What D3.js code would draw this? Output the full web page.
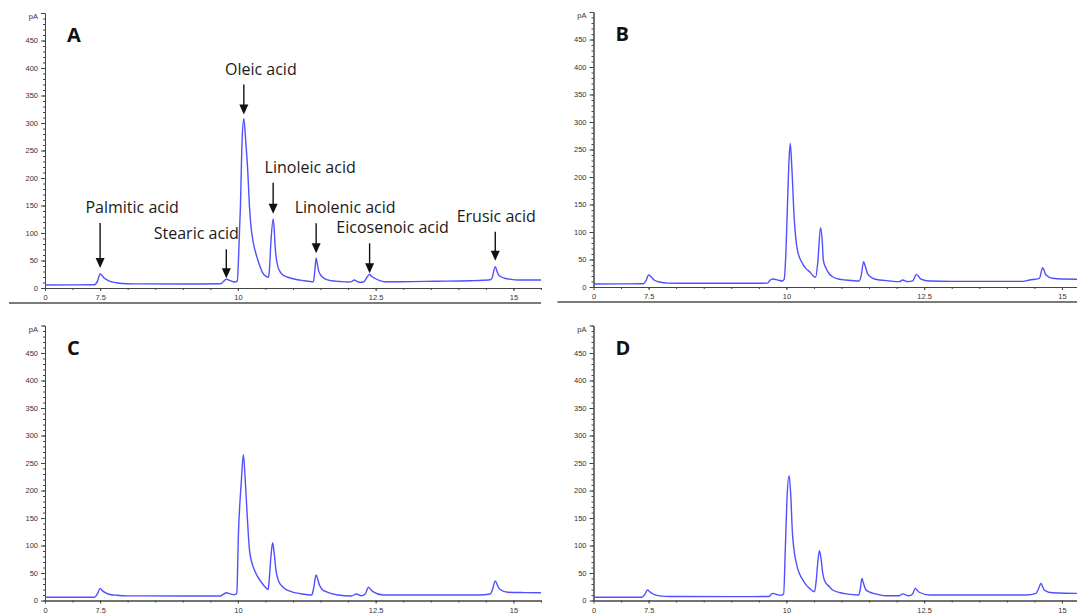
<!DOCTYPE html>
<html>
<head>
<meta charset="utf-8">
<script src="https://cdn.jsdelivr.net/npm/d3@7"></script>
<style>
  body { margin: 0; background: #fff; }
  .tick text { font-family: "Liberation Sans", Arial, sans-serif; font-size: 7.5px; fill: #333; }
  .ann { font-family: "Open Sans", sans-serif; font-size: 16px; fill: #1a1a1a; }
  .letter { font-family: "Open Sans", sans-serif; font-size: 20px; font-weight: bold; fill: #111; }
</style>
</head>
<body>
<div id="chart"></div>
<script>
// retention time (min) vs signal (pA)
var traceA = [
  [6.5, 5.5], [7.40, 5.8], [7.45, 12], [7.50, 25.5], [7.53, 23], [7.58, 17.7], [7.64, 14], [7.70, 11.5],
  [7.80, 9.5], [7.90, 8.3], [8.10, 7.5], [9.00, 7.3], [9.68, 7.6], [9.73, 11], [9.79, 15.8], [9.86, 13.5],
  [9.94, 11], [9.99, 13], [10.01, 50], [10.046, 148], [10.077, 270], [10.108, 308], [10.14, 270],
  [10.181, 209], [10.21, 148], [10.24, 110], [10.271, 87], [10.32, 65], [10.362, 51], [10.41, 37],
  [10.453, 27], [10.50, 22], [10.554, 19.5], [10.57, 30], [10.60, 85], [10.64, 125.7], [10.66, 105],
  [10.676, 75], [10.70, 52], [10.725, 39], [10.77, 29], [10.816, 23.7], [10.90, 20], [10.966, 17.7],
  [11.08, 15], [11.208, 13.3], [11.30, 12], [11.37, 11.5], [11.39, 25], [11.42, 54], [11.44, 45],
  [11.46, 33], [11.50, 24], [11.54, 19.5], [11.60, 15.5], [11.69, 13.3], [11.85, 11.8], [11.995, 11],
  [12.06, 11.5], [12.115, 14.6], [12.16, 12], [12.20, 10.4], [12.28, 11], [12.33, 17.7], [12.39, 25],
  [12.43, 21], [12.48, 17.7], [12.56, 14], [12.66, 11.5], [12.98, 11.5], [13.6, 12.3], [14.23, 13.3],
  [14.45, 14], [14.58, 15], [14.61, 17.7], [14.67, 38.8], [14.70, 31], [14.73, 23.7], [14.78, 20],
  [14.84, 17.7], [14.95, 15.8], [15.08, 14.6], [15.5, 14.6]
];
var traceB = [
  [6.5, 5.5], [7.40, 5.8], [7.45, 11], [7.50, 21.8], [7.54, 19], [7.60, 12.7], [7.70, 9], [7.85, 7],
  [8.2, 6.7], [9.0, 6.7], [9.66, 7], [9.70, 12], [9.75, 14.5], [9.85, 12.5], [9.93, 11], [9.96, 14],
  [9.99, 60], [10.02, 150], [10.05, 235], [10.07, 261], [10.10, 215], [10.14, 128], [10.20, 67],
  [10.29, 43], [10.36, 33], [10.42, 28], [10.48, 21], [10.53, 17.6], [10.57, 45], [10.62, 108],
  [10.65, 85], [10.67, 49], [10.72, 34], [10.78, 23.6], [10.84, 18.7], [10.96, 14], [11.08, 12.7],
  [11.32, 11], [11.36, 22], [11.40, 46], [11.43, 38], [11.47, 25], [11.52, 19], [11.60, 14.5],
  [11.87, 11], [12.05, 9.7], [12.11, 12.7], [12.20, 9.7], [12.29, 11], [12.36, 23], [12.40, 19],
  [12.44, 14.5], [12.60, 11], [13.0, 10.3], [14.29, 10.3], [14.41, 12.7], [14.59, 15.8], [14.65, 35],
  [14.68, 29], [14.71, 21.8], [14.83, 15.8], [15.0, 14.5], [15.5, 14]
];
var traceC = [
  [6.5, 5.8], [7.40, 6], [7.45, 12], [7.50, 22], [7.54, 18], [7.60, 14], [7.70, 10.5], [7.80, 9.5],
  [8.0, 8.5], [9.0, 8.2], [9.68, 8.3], [9.73, 11], [9.79, 14], [9.86, 12], [9.94, 10.6], [9.98, 14],
  [10.01, 122], [10.06, 213], [10.10, 265], [10.13, 225], [10.17, 153], [10.21, 92], [10.25, 70],
  [10.30, 55.6], [10.36, 43], [10.42, 34], [10.49, 25], [10.55, 20], [10.57, 40], [10.60, 80],
  [10.63, 105], [10.66, 85], [10.69, 55.6], [10.74, 35], [10.81, 25], [10.97, 16], [11.21, 11.3],
  [11.34, 10], [11.37, 20], [11.42, 46.4], [11.45, 38], [11.48, 28], [11.53, 20], [11.60, 16],
  [11.81, 10], [12.06, 8.2], [12.15, 11.8], [12.24, 8.7], [12.31, 12], [12.37, 24], [12.41, 20],
  [12.45, 16], [12.63, 10], [13.5, 10], [14.38, 10], [14.58, 11.8], [14.62, 20], [14.67, 35.5],
  [14.71, 28], [14.75, 20.4], [14.90, 15], [15.2, 14.4], [15.5, 14.2]
];
var traceD = [
  [6.5, 5.8], [7.38, 6], [7.43, 11], [7.48, 19], [7.52, 16], [7.58, 11.8], [7.70, 8.5], [7.90, 7.2],
  [9.0, 7], [9.69, 7.2], [9.72, 11], [9.75, 13], [9.82, 11], [9.90, 9.5], [9.95, 12], [9.98, 92],
  [10.01, 183], [10.05, 227], [10.08, 190], [10.11, 122], [10.18, 68], [10.24, 48], [10.30, 37],
  [10.36, 28], [10.42, 22], [10.51, 16], [10.54, 35], [10.57, 70], [10.60, 90.7], [10.63, 75],
  [10.66, 49.5], [10.69, 37], [10.79, 24], [10.84, 19], [10.98, 14], [11.08, 12], [11.31, 10],
  [11.34, 20], [11.37, 40], [11.40, 31], [11.44, 20], [11.52, 15], [11.62, 12], [11.80, 8.7],
  [12.05, 8.7], [12.11, 12], [12.22, 8.7], [12.29, 12], [12.34, 22], [12.37, 19], [12.41, 15],
  [12.60, 10], [13.5, 10], [14.35, 10], [14.53, 13], [14.57, 20], [14.62, 31], [14.65, 25],
  [14.68, 19], [14.83, 14], [15.26, 13], [15.5, 13]
];

var panelNames = ["A", "B", "C", "D"];
var traces = [traceA, traceB, traceC, traceD];

// x axis: the plotted window starts at 6.5 min but the software labels it "0"
var xTickValues = [6.5, 7.5, 10, 12.5, 15];
var xTickLabels = ["0", "7.5", "10", "12.5", "15"];
var yTickValues = [0, 50, 100, 150, 200, 250, 300, 350, 400, 450];

// peaks labelled in panel A
var peakNames = ["Palmitic acid", "Stearic acid", "Oleic acid", "Linoleic acid", "Linolenic acid", "Eicosenoic acid", "Erusic acid"];
var peakTimes = [7.50, 9.79, 10.108, 10.64, 11.42, 12.39, 14.67];
var peakHeights = [25.5, 15.8, 308, 125.7, 54, 25, 38.8];

// label layout: [text dx from arrow, gap peak->tip, arrow length]
var labelLayout = [[32, 6, 45], [-30, 1, 29], [17, 4, 30], [37, 5, 31], [29, 5, 30], [23, 1, 30], [1, 6, 29]];

var W = 1077, H = 613;
var plotW = 496, plotH = 275;
var origins = [[45, 288], [593.5, 287], [45, 600.5], [593.5, 600.5]];

var svg = d3.select("#chart").append("svg").attr("width", W).attr("height", H)
  .style("display", "block");
svg.append("rect").attr("width", W).attr("height", H).attr("fill", "#fff");

var line;
traces.forEach(function(tr, i) {
  var ox = origins[i][0], oy = origins[i][1];
  var g = svg.append("g").attr("transform", "translate(" + ox + "," + oy + ")");

  var x = d3.scaleLinear().domain([6.5, 15.5]).range([0, plotW]);
  var y = d3.scaleLinear().domain([0, 500]).range([0, -plotH]);

  // separator under each panel
  g.append("line").attr("x1", -36).attr("x2", plotW).attr("y1", 15).attr("y2", 15)
    .attr("stroke", "#7a7a7a").attr("stroke-width", 2);

  // y axis minor + major
  g.append("g").call(d3.axisLeft(y).tickValues(d3.range(0, 501, 10)).tickSize(2).tickSizeOuter(0).tickFormat(""))
    .call(function(a) { a.selectAll("line,path").attr("stroke", "#444"); });
  var ya = g.append("g").call(d3.axisLeft(y).tickValues(yTickValues.concat([500])).tickSize(4).tickSizeOuter(0).tickPadding(3)
    .tickFormat(function(d) { return d === 500 ? "" : d; }));
  ya.selectAll("line,path").attr("stroke", "#444");
  g.append("text").attr("x", -7).attr("y", y(500) + 6).attr("text-anchor", "end")
    .style("font-family", "Liberation Sans, Arial, sans-serif").style("font-size", "7.5px").attr("fill", "#333").text("pA");

  // x axis minor + major
  g.append("g").call(d3.axisBottom(x).tickValues(d3.range(7, 15.51, 0.5)).tickSize(2).tickSizeOuter(0).tickFormat(""))
    .call(function(a) { a.selectAll("line,path").attr("stroke", "#444"); });
  var xa = g.append("g").call(d3.axisBottom(x).tickValues(xTickValues).tickSize(3).tickSizeOuter(0).tickPadding(4)
    .tickFormat(function(d, j) { return xTickLabels[j]; }));
  xa.selectAll("line,path").attr("stroke", "#444");

  line = d3.line().x(function(d) { return x(d[0]); }).y(function(d) { return y(d[1]); }).curve(d3.curveMonotoneX);
  g.append("path").datum(tr).attr("d", line).attr("fill", "none")
    .attr("stroke", "#5050ff").attr("stroke-width", 1.4).attr("stroke-linejoin", "round");

  g.append("text").attr("class", "letter").attr("x", 22).attr("y", -246).text(panelNames[i]);

  if (i === 0) {
    peakNames.forEach(function(name, k) {
      var ax = x(peakTimes[k]);
      var tip = y(peakHeights[k]) - labelLayout[k][1];
      var top = tip - labelLayout[k][2];
      g.append("line").attr("x1", ax).attr("x2", ax).attr("y1", top).attr("y2", tip - 8)
        .attr("stroke", "#111").attr("stroke-width", 1.4);
      g.append("path").attr("d", "M" + (ax - 4.5) + "," + (tip - 10) + "L" + (ax + 4.5) + "," + (tip - 10) + "L" + ax + "," + tip + "Z")
        .attr("fill", "#111");
      g.append("text").attr("class", "ann").attr("text-anchor", "middle")
        .attr("x", ax + labelLayout[k][0]).attr("y", top - 10).text(name);
    });
  }
});
</script>
</body>
</html>
